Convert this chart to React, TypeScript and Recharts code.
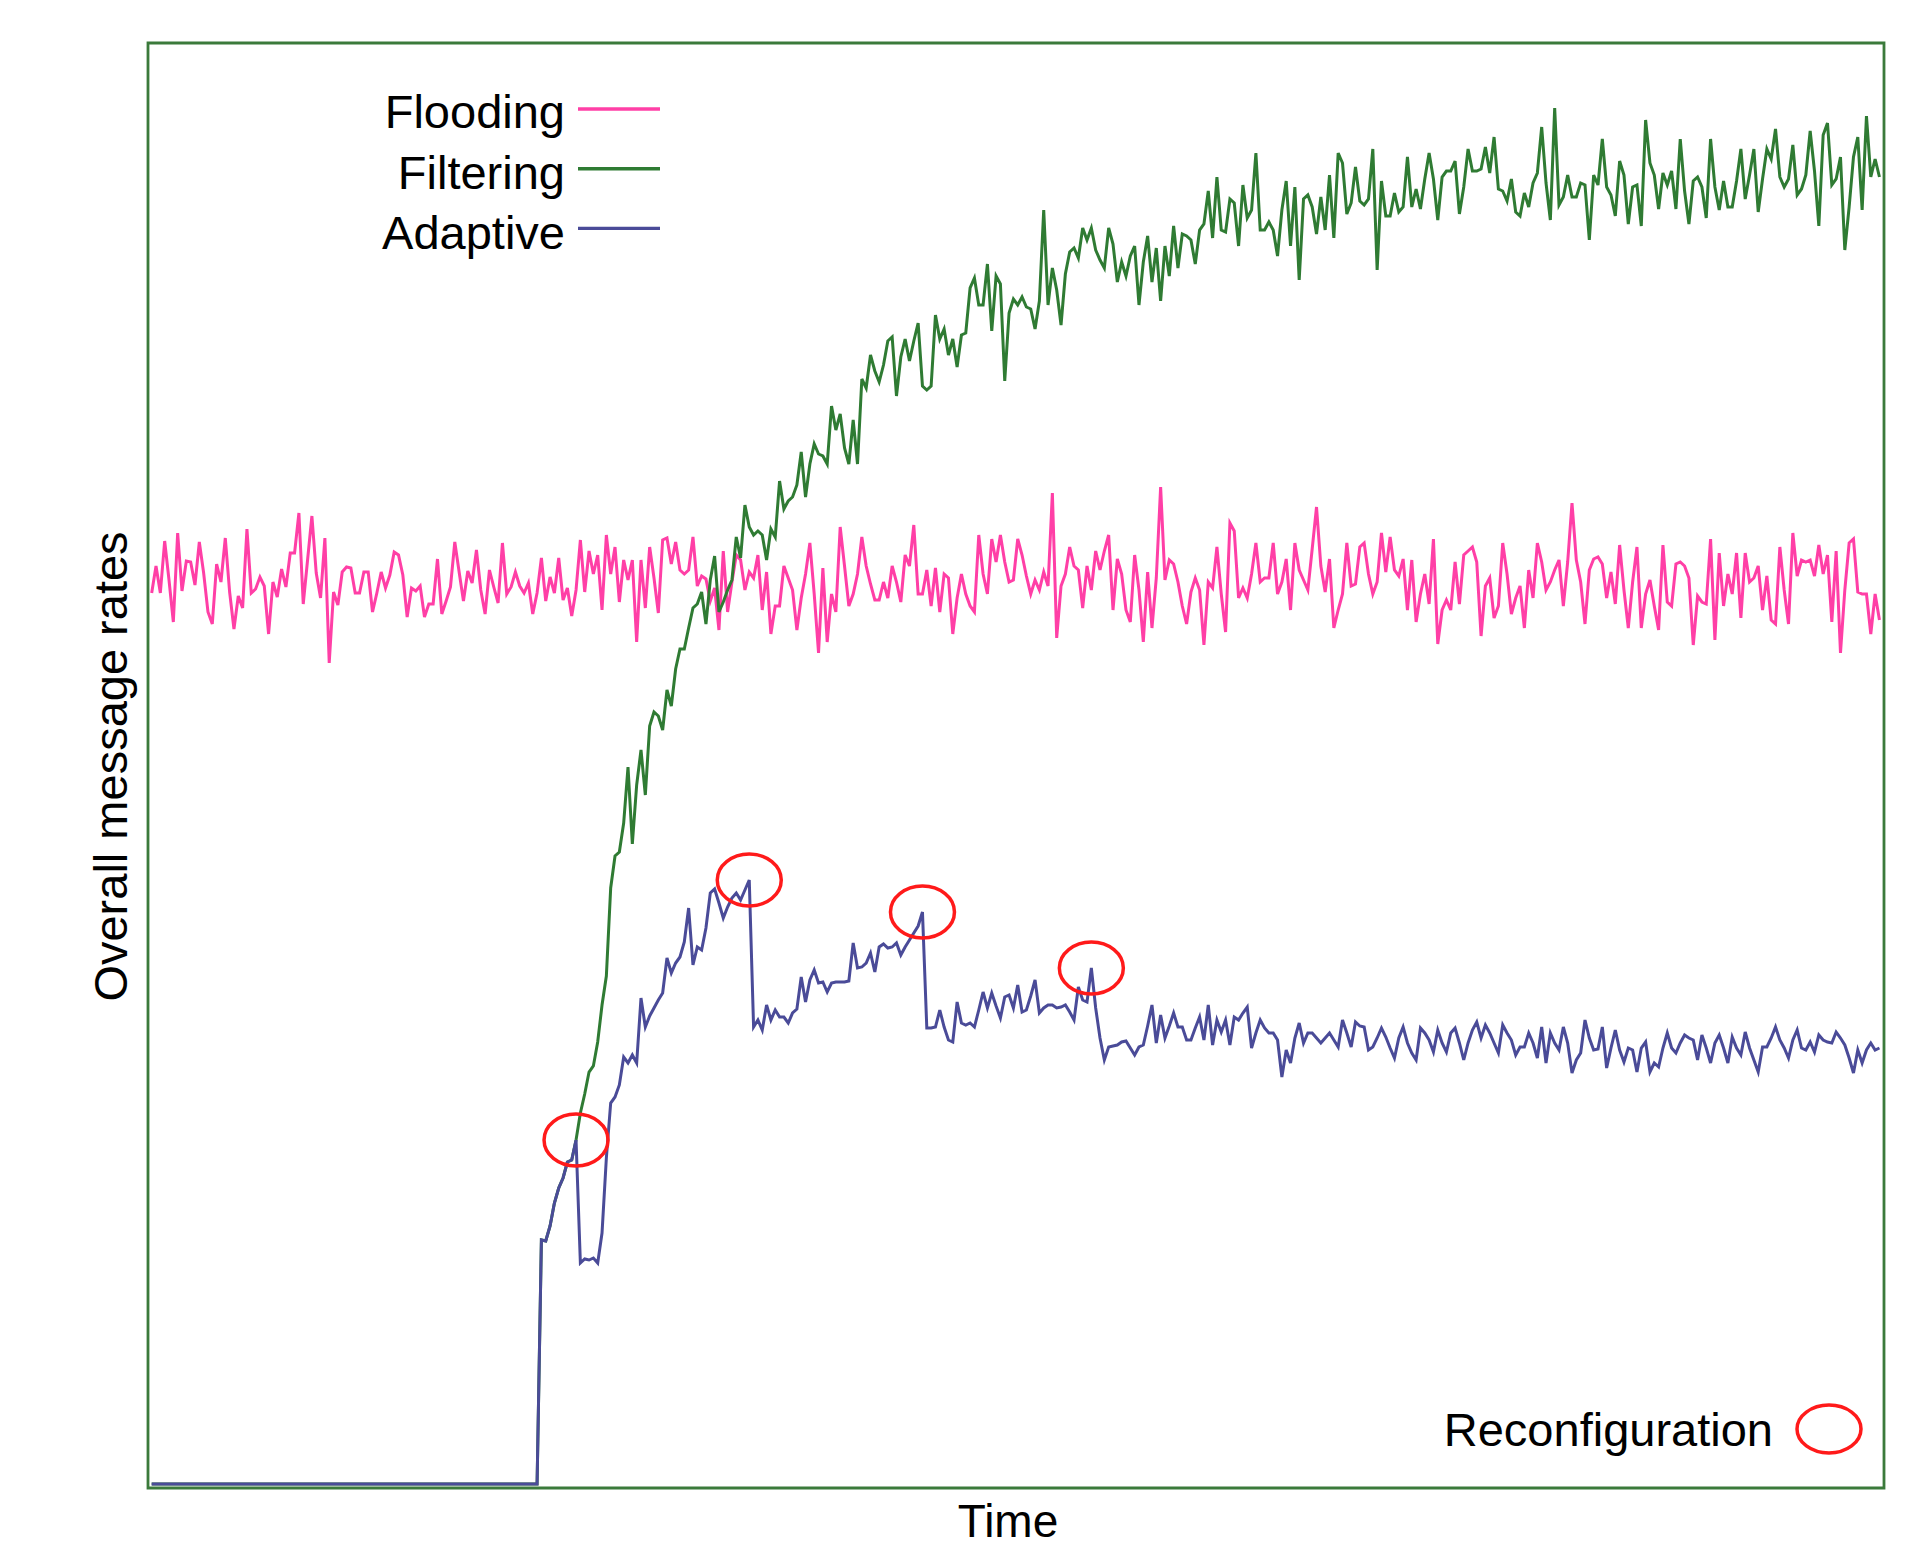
import React from 'react';
import { ComposedChart, Line, XAxis, YAxis, ReferenceArea, ReferenceDot, Legend, Label } from 'recharts';

const FONT = '"Liberation Sans", Arial, Helvetica, sans-serif';
const PINK = '#ff3fa6';
const GREEN = '#2f7b33';
const BLUE = '#4a4b98';
const FRAME = '#3b7a3b';
const RED = '#ff1a1a';

const seriesOrder = ['Flooding', 'Filtering', 'Adaptive'];

// rate units are arbitrary (no ticks in the original); 0 = nothing sent
const flooding = [
  895, 922, 895, 947, 908, 866, 955, 897, 927, 926,
  903, 946, 915, 876, 864, 924, 906, 950, 896, 859,
  892, 880, 959, 895, 899, 911, 902, 854, 906, 891,
  919, 901, 935, 935, 975, 884, 928, 972, 915, 890,
  950, 825, 896, 883, 916, 921, 920, 895, 895, 916,
  916, 876, 895, 916, 900, 913, 936, 933, 913, 871,
  900, 897, 902, 871, 884, 884, 929, 874, 887, 901,
  946, 916, 887, 917, 905, 938, 898, 874, 918, 901,
  885, 945, 894, 901, 916, 902, 895, 905, 874, 895,
  930, 887, 911, 895, 930, 888, 900, 872, 898, 948,
  896, 937, 914, 933, 878, 953, 914, 941, 886, 928,
  908, 928, 846, 928, 880, 941, 910, 875, 948, 950,
  924, 946, 918, 914, 918, 951, 902, 912, 909, 887,
  900, 858, 937, 876, 906, 933, 928, 898, 916, 910,
  933, 878, 916, 854, 882, 882, 922, 910, 898, 858,
  890, 914, 945, 894, 835, 920, 846, 894, 876, 961,
  922, 882, 894, 914, 951, 922, 904, 888, 888, 906,
  890, 922, 906, 886, 933, 922, 963, 894, 894, 918,
  882, 920, 876, 914, 910, 854, 890, 914, 894, 882,
  876, 953, 914, 894, 949, 926, 953, 926, 906, 908,
  949, 933, 912, 894, 908, 898,
  916, 902, 995, 850, 902, 914, 941, 922, 918, 880,
  922, 898, 937, 918, 937, 953, 878, 929, 914, 878,
  866, 933, 898, 846, 916, 860, 910, 1001, 908, 928,
  924, 906, 882, 864, 896, 910, 898, 843, 906, 900,
  941, 894, 856, 965, 957, 890, 900, 890, 914, 945,
  906, 910, 910, 945, 894, 906, 929, 878, 945, 918,
  908, 898, 939, 981, 922, 896, 929, 860, 878, 894,
  945, 902, 904, 941, 945, 914, 894, 906, 955, 916,
  951, 918, 912, 929, 878, 928, 866, 894, 914, 884,
  949, 844, 878, 888, 878, 926, 884, 933, 937,
  941, 926, 852, 902, 910, 870, 882, 945, 914, 874,
  890, 902, 860, 918, 890, 945, 926, 898, 906, 918,
  928, 882, 926, 985, 928, 906, 864, 918, 929, 931,
  924, 890, 916, 884, 943, 898, 860, 906, 941, 860,
  894, 908, 882, 858, 943, 886, 882, 924, 926, 922,
  910, 843, 892, 886, 884, 949, 848, 935, 882, 914,
  894, 935, 870, 935, 906, 910, 922, 878, 912, 868,
  864, 941, 898, 864, 955, 912, 928, 926, 928, 912,
  943, 914, 933, 866, 937, 835, 898, 945, 949, 896,
  894, 894, 854, 894, 868,
];

// filtering and adaptive are identical until the first reconfiguration
const sharedStart = [
  4, 4, 4, 4, 4, 4, 4, 4, 4, 4, 4, 4, 4, 4, 4, 4, 4, 4, 4, 4, 4, 4, 4, 4, 4, 4, 4, 4, 4, 4,
  4, 4, 4, 4, 4, 4, 4, 4, 4, 4, 4, 4, 4, 4, 4, 4, 4, 4, 4, 4, 4, 4, 4, 4, 4, 4, 4, 4, 4, 4,
  4, 4, 4, 4, 4, 4, 4, 4, 4, 4, 4, 4, 4, 4, 4, 4, 4, 4, 4, 4, 4, 4, 4, 4, 4, 4, 4, 4, 4, 4,
  248, 247, 262, 285, 300, 310, 326, 328, 348,
];

const filteringRest = [
  375, 394, 416, 422, 446, 483, 512, 600, 632, 636, 665, 721, 644, 703, 738, 693, 762, 776, 772, 758, 798, 782,
  819, 839, 839, 860, 880, 884, 896, 864, 908, 932,
  876, 886, 898, 908, 951, 930, 983, 961, 953, 957,
  953, 928, 959, 951, 1007, 979, 987, 991, 1003, 1036,
  991, 1024, 1044, 1034, 1032, 1024, 1082, 1058, 1074, 1040,
  1024, 1068, 1024, 1109, 1100, 1133, 1117, 1106, 1123, 1147,
  1151, 1092, 1131, 1149, 1127, 1147, 1165, 1102, 1098, 1102,
  1173, 1149, 1159, 1133, 1149, 1121, 1153, 1155, 1200, 1210,
  1183, 1183, 1224, 1157, 1212, 1204, 1107, 1175, 1189, 1183,
  1191, 1181, 1179, 1159, 1187,
  1278, 1183, 1220, 1198, 1163, 1214, 1236, 1240, 1230, 1260,
  1248, 1260, 1238, 1228, 1220, 1260, 1244, 1206, 1226, 1212,
  1232, 1242, 1183, 1226, 1252, 1206, 1240, 1187, 1242, 1212,
  1262, 1220, 1254, 1252, 1248, 1224, 1258, 1264, 1297, 1250,
  1311, 1258, 1256, 1289, 1285, 1242, 1303, 1270, 1278, 1335,
  1258, 1258, 1266, 1258, 1232, 1278, 1307, 1242, 1301, 1208,
  1289, 1293, 1281, 1254, 1291, 1258, 1313, 1250, 1335, 1325,
  1274, 1285, 1321, 1287, 1283, 1289, 1339, 1218, 1307, 1272,
  1272, 1295, 1276, 1281, 1331, 1281, 1299, 1279, 1309, 1335,
  1309, 1268, 1311, 1317, 1317, 1327, 1274, 1301, 1339,
  1317, 1317, 1319, 1341, 1315, 1351, 1299, 1297, 1287, 1309,
  1276, 1272, 1295, 1281, 1305, 1315, 1361, 1305, 1268, 1380,
  1283, 1291, 1313, 1291, 1291, 1305, 1303, 1248, 1313, 1303,
  1349, 1301, 1293, 1272, 1327, 1313, 1264, 1301, 1303, 1262,
  1368, 1325, 1313, 1279, 1315, 1303, 1317, 1279, 1349, 1297,
  1264, 1307, 1311, 1301, 1270, 1349, 1301, 1278, 1307, 1281,
  1281, 1307, 1339, 1289, 1313, 1339, 1276, 1309, 1339, 1329,
  1359, 1311, 1301, 1309, 1343, 1293, 1299, 1313, 1357, 1317,
  1262, 1353, 1365, 1303, 1309, 1331, 1238, 1281, 1331, 1351,
  1278, 1372, 1311, 1329, 1311,
];

const adaptiveRest = [
  225, 229, 228, 230, 225, 255, 330, 385, 391, 403,
  431, 425, 433, 425, 490, 461, 472, 480, 488, 495,
  530, 515, 525, 531, 546, 580, 523, 541, 538, 560,
  595, 599, 585, 570, 581, 590, 595, 588, 598, 608,
  461, 468, 458, 483, 468, 478, 471, 471, 465, 475,
  479, 511, 486, 508, 518, 505, 506, 496, 505, 506,
  506, 506, 507, 545, 520, 521, 525, 535, 516, 541,
  544, 540, 541, 545, 533, 541, 548, 555, 562, 576,
  460, 460, 461, 478, 461, 448, 446, 486, 465, 463,
  465, 461, 478, 496, 480, 495, 482, 470, 491, 493,
  480, 503, 476, 478, 492, 508, 475, 480, 483, 483,
  480, 481, 483, 476, 468, 501, 488, 486, 520, 480,
  450,
  428, 441, 442, 443, 446, 447, 440, 433, 441, 443,
  462, 483, 445, 473, 450, 462, 475, 461, 461, 448,
  448, 460, 471, 448, 483, 443, 468, 456, 468, 443,
  471, 468, 475, 481, 440, 455, 468, 460, 455, 455,
  448, 411, 438, 425, 450, 465, 445, 455, 455, 450,
  445, 450, 455, 448, 441, 468, 455, 441, 466, 462,
  461, 438, 441, 450, 460, 451, 440, 430, 450, 461,
  445, 435, 428, 460, 455, 448, 436, 458, 445, 436,
  455, 460, 445, 428, 445, 458, 466, 450, 463, 455,
  445, 435, 463, 455, 448, 433, 441, 441, 455, 445,
  430, 461, 425, 455, 445, 438, 461, 445, 415, 428,
  435, 468, 450, 438, 439, 461, 420, 440, 458, 438,
  426, 440, 438, 416, 440, 446, 416, 425, 421, 440,
  455, 440, 435, 445, 453, 450, 448, 428, 453, 440,
  425, 445, 453, 440, 425, 451, 440, 433, 456, 440,
  428, 416, 441, 441, 450, 461, 448, 440, 430, 448,
  458, 440, 438, 446, 436, 453, 448, 446, 445, 456,
  450, 443, 430, 415, 438, 425, 438, 445, 438, 440,
];

const filtering = [...sharedStart, ...filteringRest];
const adaptive = [...sharedStart, ...adaptiveRest];

// time steps at which the adaptive scheme reconfigured
const reconfigTimes = [98, 138, 178, 217];

const rows = flooding.map((f, t) => ({ t, flooding: f, filtering: filtering[t], adaptive: adaptive[t] }));
const reconfigurations = reconfigTimes.map((t) => ({ t, v: adaptive[t] }));

const Ring = (props: any) => (
  <ellipse cx={props.cx} cy={props.cy} rx={32} ry={26} fill="none" stroke={RED} strokeWidth={3.5} />
);

const YTitle = (props: any) => {
  const vb = props.viewBox ?? { x: 0, y: 43, width: 148, height: 1445 };
  const x = vb.x + vb.width - 21;
  const y = vb.y + vb.height / 2 + 1;
  return (
    <text x={x} y={y} transform={`rotate(-90 ${x} ${y})`} textAnchor="middle" fontSize={47} fontFamily={FONT} fill="#000">
      Overall message rates
    </text>
  );
};

const XTitle = (props: any) => {
  const vb = props.viewBox ?? { x: 148, y: 1488, width: 1736, height: 61 };
  return (
    <text x={vb.x + vb.width / 2 - 8} y={vb.y + 49} textAnchor="middle" fontSize={46} fontFamily={FONT} fill="#000">
      Time
    </text>
  );
};

const LegendBox = (props: any) => {
  const items = [...(props.payload ?? [])].sort(
    (a: any, b: any) => seriesOrder.indexOf(String(a.value)) - seriesOrder.indexOf(String(b.value)),
  );
  return (
    <svg width={1915} height={1549} style={{ position: 'absolute', left: 0, top: 0, overflow: 'visible', pointerEvents: 'none' }}>
      {items.map((it: any, k: number) => (
        <g key={String(it.value)}>
          <text x={565} y={128 + k * 60.5} textAnchor="end" fontSize={47} fontFamily={FONT} fill="#000">
            {it.value}
          </text>
          <line x1={578} x2={660} y1={109 + k * 59.7} y2={109 + k * 59.7} stroke={it.color} strokeWidth={3.4} />
        </g>
      ))}
      <text x={1773} y={1446} textAnchor="end" fontSize={47} fontFamily={FONT} fill="#000">
        Reconfiguration
      </text>
      <ellipse cx={1829} cy={1429} rx={32} ry={24} fill="none" stroke={RED} strokeWidth={3.5} />
    </svg>
  );
};

export default function App() {
  return (
    <div style={{ position: 'absolute', left: 0, top: 0, width: 1915, height: 1549, background: '#fff' }}>
      <ComposedChart width={1915} height={1549} data={rows} margin={{ top: 43, right: 31, bottom: 0, left: 0 }}>
        <XAxis
          type="number"
          dataKey="t"
          domain={[-0.85, 400.05]}
          allowDataOverflow
          height={61}
          tick={false}
          tickLine={false}
          axisLine={false}
        >
          <Label content={XTitle} />
        </XAxis>
        <YAxis type="number" domain={[0, 1445]} allowDataOverflow width={148} tick={false} tickLine={false} axisLine={false}>
          <Label content={YTitle} />
        </YAxis>
        <ReferenceArea x1={-0.85} x2={400.05} y1={0} y2={1445} fill="none" stroke={FRAME} strokeWidth={2.8} ifOverflow="visible" />
        <Line type="linear" dataKey="flooding" name="Flooding" stroke={PINK} strokeWidth={3} dot={false} activeDot={false} isAnimationActive={false} />
        <Line type="linear" dataKey="filtering" name="Filtering" stroke={GREEN} strokeWidth={3} dot={false} activeDot={false} isAnimationActive={false} />
        <Line type="linear" dataKey="adaptive" name="Adaptive" stroke={BLUE} strokeWidth={3} dot={false} activeDot={false} isAnimationActive={false} />
        {reconfigurations.map((p) => (
          <ReferenceDot key={p.t} x={p.t} y={p.v} r={30} shape={Ring} ifOverflow="visible" />
        ))}
        <Legend
          layout="horizontal"
          verticalAlign="middle"
          align="center"
          wrapperStyle={{ left: 0, top: 0, width: 1915, height: 1549 }}
          content={LegendBox}
        />
      </ComposedChart>
    </div>
  );
}
